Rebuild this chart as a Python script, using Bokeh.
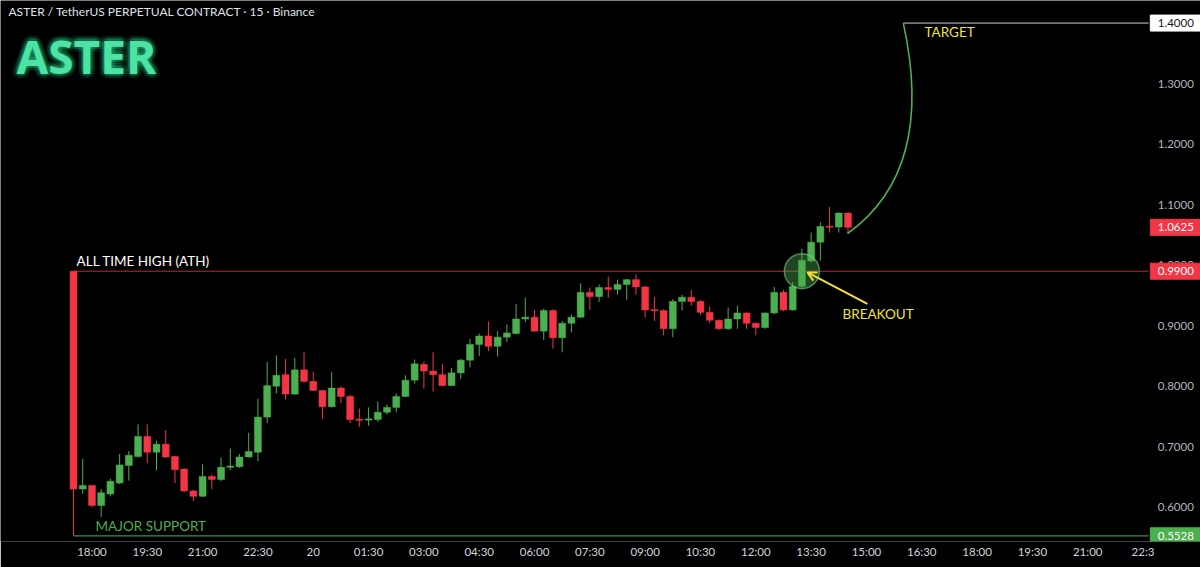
import math
from bokeh.plotting import figure
from bokeh.models import Range1d, FixedTicker, Label, Arrow, OpenHead, ColumnDataSource
from bokeh.embed import file_html
from bokeh.resources import INLINE
from bokeh.core.properties import value

# ---- data (15-min candles, ASTERUSDT perp, index 0 = 17:30) ----
opens = [0.990, 0.630, 0.636, 0.603, 0.622, 0.640, 0.669, 0.684, 0.717, 0.691,
         0.704, 0.684, 0.663, 0.627, 0.618, 0.651, 0.646, 0.666, 0.667, 0.683,
         0.691, 0.749, 0.800, 0.819, 0.787, 0.827, 0.808, 0.793, 0.766, 0.797,
         0.783, 0.745, 0.744, 0.745, 0.757, 0.765, 0.783, 0.810, 0.836, 0.825,
         0.819, 0.801, 0.822, 0.843, 0.869, 0.883, 0.866, 0.881, 0.887, 0.911,
         0.914, 0.891, 0.925, 0.880, 0.904, 0.914, 0.955, 0.948, 0.963, 0.960,
         0.968, 0.976, 0.964, 0.926, 0.925, 0.895, 0.940, 0.947, 0.940, 0.922,
         0.909, 0.895, 0.911, 0.921, 0.904, 0.897, 0.921, 0.955, 0.926, 0.965,
         1.007, 1.038, 1.064, 1.063, 1.086]
highs = [0.990, 0.680, 0.637, 0.630, 0.647, 0.688, 0.693, 0.737, 0.737, 0.710,
         0.727, 0.685, 0.664, 0.629, 0.671, 0.654, 0.682, 0.697, 0.688, 0.723,
         0.779, 0.840, 0.851, 0.845, 0.847, 0.856, 0.824, 0.794, 0.823, 0.800,
         0.786, 0.763, 0.765, 0.775, 0.770, 0.788, 0.818, 0.844, 0.841, 0.856,
         0.837, 0.830, 0.845, 0.878, 0.887, 0.907, 0.891, 0.902, 0.936, 0.946,
         0.926, 0.928, 0.927, 0.908, 0.918, 0.970, 0.963, 0.968, 0.981, 0.976,
         0.977, 0.985, 0.966, 0.947, 0.927, 0.944, 0.951, 0.959, 0.942, 0.932,
         0.910, 0.930, 0.933, 0.922, 0.905, 0.922, 0.964, 0.959, 0.972, 1.027,
         1.054, 1.071, 1.096, 1.087, 1.087]
lows = [0.5528, 0.622, 0.600, 0.584, 0.618, 0.638, 0.644, 0.682, 0.673, 0.661,
        0.682, 0.640, 0.625, 0.610, 0.617, 0.630, 0.643, 0.661, 0.665, 0.682,
        0.676, 0.739, 0.788, 0.778, 0.786, 0.806, 0.792, 0.746, 0.765, 0.772,
        0.739, 0.733, 0.735, 0.741, 0.753, 0.757, 0.782, 0.804, 0.796, 0.791,
        0.800, 0.800, 0.812, 0.831, 0.850, 0.858, 0.849, 0.873, 0.886, 0.906,
        0.890, 0.876, 0.862, 0.856, 0.889, 0.913, 0.926, 0.939, 0.946, 0.951,
        0.943, 0.951, 0.914, 0.908, 0.884, 0.881, 0.925, 0.933, 0.918, 0.904,
        0.893, 0.893, 0.895, 0.895, 0.884, 0.895, 0.919, 0.924, 0.925, 0.962,
        1.005, 1.008, 1.054, 1.054, 1.052]
closes = [0.630, 0.636, 0.603, 0.624, 0.643, 0.670, 0.686, 0.717, 0.691, 0.704,
          0.683, 0.662, 0.627, 0.618, 0.651, 0.646, 0.666, 0.668, 0.683, 0.692,
          0.749, 0.801, 0.818, 0.787, 0.827, 0.808, 0.793, 0.766, 0.797, 0.783,
          0.745, 0.744, 0.746, 0.757, 0.765, 0.783, 0.810, 0.837, 0.825, 0.819,
          0.801, 0.822, 0.843, 0.869, 0.883, 0.866, 0.881, 0.888, 0.911, 0.914,
          0.891, 0.925, 0.880, 0.904, 0.914, 0.955, 0.948, 0.963, 0.960, 0.968,
          0.976, 0.964, 0.926, 0.925, 0.895, 0.940, 0.947, 0.940, 0.922, 0.909,
          0.895, 0.911, 0.921, 0.904, 0.897, 0.921, 0.955, 0.926, 0.965, 1.008,
          1.038, 1.064, 1.063, 1.086, 1.0625]

tick_labels = ["18:00", "19:30", "21:00", "22:30", "20", "01:30", "03:00", "04:30",
               "06:00", "07:30", "09:00", "10:30", "12:00", "13:30", "15:00", "16:30",
               "18:00", "19:30", "21:00", "22:3"]
first_tick_index = 2          # 18:00 is the third 15-min bar after 17:30
bars_per_tick = 6             # 90 minutes per time label
price_ticks = [0.6, 0.7, 0.8, 0.9, 1.0, 1.1, 1.2, 1.3, 1.4]

ath_price = 0.99
support_price = 0.5528
target_price = 1.40
last_price = 1.0625
breakout_index = 79
target_start_index = 90
# target projection arc (quadratic): start, control, end
arc_x0, arc_y0 = 83.95, 1.0523
arc_cx, arc_cy = 93.5, 1.1564
arc_x1, arc_y1 = 90.0, 1.40
arrow_tail = (86.1, 0.936)
arrow_tip = (79.6, 0.988)

GREEN = "#4caf50"
RED = "#f23645"
YELLOW = "#f2e232"
FONT = "Lato"

# layout in bar-index units
x_start, x_end = -7.92, 122.23
scale_left = 116.6          # where the price scale column begins
scale_text_x = 117.6
scale_box_x = 119.5

n = len(opens)
idx = list(range(n))
cols = [GREEN if c >= o else RED for o, c in zip(opens, closes)]
min_body = 0.0018
tops, bots = [], []
for o, c in zip(opens, closes):
    t, b = max(o, c), min(o, c)
    if t - b < min_body:
        mid = (t + b) / 2
        t, b = mid + min_body / 2, mid - min_body / 2
    tops.append(t)
    bots.append(b)
src = ColumnDataSource(dict(x=idx, o=opens, h=highs, l=lows, c=closes, top=tops, bot=bots, col=cols))

p = figure(width=1200, height=567, x_range=Range1d(x_start, x_end), y_range=Range1d(0.5434, 1.4373),
           output_backend="svg", toolbar_location=None, y_axis_location=None,
           background_fill_color="#000000", border_fill_color="#000000",
           min_border_left=0, min_border_right=0, min_border_top=0, min_border_bottom=26)
p.grid.visible = False
p.outline_line_color = None

# time axis
tick_pos = [first_tick_index + bars_per_tick * k for k in range(len(tick_labels))]
p.xaxis.ticker = FixedTicker(ticks=tick_pos)
p.xaxis.major_label_overrides = {t: lab for t, lab in zip(tick_pos, tick_labels)}
ax = p.xaxis[0]
ax.axis_line_color = None
ax.major_tick_line_color = None
ax.major_tick_out = 0
ax.major_tick_in = 0
ax.minor_tick_line_color = None
ax.minor_tick_out = 0
ax.major_label_text_font = FONT
ax.major_label_text_font_size = "11.5px"
ax.major_label_text_color = "#d1d4dc"
ax.major_label_standoff = 3

# level lines
p.segment(x0=[0], y0=[ath_price], x1=[scale_left], y1=[ath_price], line_color="#b8283a", line_width=1)
p.segment(x0=[0], y0=[support_price], x1=[scale_left], y1=[support_price], line_color="#3f8f43", line_width=1.2)
p.segment(x0=[target_start_index], y0=[target_price], x1=[scale_left], y1=[target_price],
          line_color="#d0d0d0", line_width=1)

# candles
p.segment(x0="x", y0="l", x1="x", y1="h", line_color="col", line_width=1, source=src)
p.vbar(x="x", top="top", bottom="bot", width=0.75, fill_color="col", line_color="col", line_width=0.5, source=src)

# breakout marker
p.scatter(x=[breakout_index], y=[ath_price], size=35, fill_color=GREEN, fill_alpha=0.4,
          line_color="#7ccf7f", line_alpha=0.6, line_width=1.5)
p.add_layout(Arrow(x_start=arrow_tail[0], y_start=arrow_tail[1], x_end=arrow_tip[0], y_end=arrow_tip[1],
                   line_color=YELLOW, line_width=2,
                   end=OpenHead(size=9, line_color=YELLOW, line_width=2)))

# projection arc
p.quadratic(x0=[arc_x0], y0=[arc_y0], x1=[arc_x1], y1=[arc_y1], cx=[arc_cx], cy=[arc_cy],
            line_color=GREEN, line_width=1.6)

# text annotations
p.add_layout(Label(x=0.33, y=1.0069, text="ALL TIME HIGH (ATH)", text_color="#ffffff",
                   text_font=FONT, text_font_size="13.5px", text_baseline="middle"))
p.add_layout(Label(x=2.39, y=0.5698, text="MAJOR SUPPORT", text_color=GREEN,
                   text_font=FONT, text_font_size="13.5px", text_baseline="middle"))
p.add_layout(Label(x=83.4, y=0.920, text="BREAKOUT", text_color=YELLOW,
                   text_font=FONT, text_font_size="13.5px", text_baseline="middle"))
p.add_layout(Label(x=92.3, y=1.386, text="TARGET", text_color=YELLOW,
                   text_font=FONT, text_font_size="13.5px", text_baseline="middle"))

# header + big title with glow
FH = 541  # frame height in px
p.add_layout(Label(x=8, y=FH - 11, x_units="screen", y_units="screen",
                   text="ASTER / TetherUS PERPETUAL CONTRACT \u00b7 15 \u00b7 Binance",
                   text_color="#dfe1e8", text_font=FONT, text_font_size="12px",
                   text_baseline="middle"))
title_y = FH - 55
for k in range(12):
    a = 2 * math.pi * k / 12
    for r in (2.5, 5.0):
        p.add_layout(Label(x=16 + r * math.cos(a), y=title_y + r * math.sin(a), x_units="screen", y_units="screen",
                           text="ASTER", text_color="#2ee89a", text_alpha=0.07, text_baseline="middle",
                           text_font="Open Sans", text_font_style="bold", text_font_size="46px"))
p.add_layout(Label(x=16, y=title_y, x_units="screen", y_units="screen", text="ASTER", text_baseline="middle",
                   text_color="#4de3a4", text_font="Open Sans", text_font_style="bold", text_font_size="46px"))

# price scale column (tick labels + tags), positioned through the y scale
tick_txt = [f"{v:.4f}" for v in price_ticks]
p.text(x=[scale_text_x] * len(price_ticks), y=price_ticks, text=tick_txt, text_color="#b2b5be",
       text_font=value(FONT), text_font_size="11.5px", text_baseline="middle", text_align="left")

tag_prices = [target_price, last_price, ath_price, support_price]
tag_text_cols = ["#131722", "#ffffff", "#ffffff", "#ffffff"]
tag_bg = ["#ffffff", RED, RED, GREEN]
tag_src = ColumnDataSource(dict(x=[scale_box_x] * 4, tx=[scale_text_x] * 4, y=tag_prices,
                                t=[f"{v:.4f}" for v in tag_prices], tc=tag_text_cols, bg=tag_bg))
p.rect(x="x", y="y", width=50, height=16, width_units="screen", height_units="screen",
       fill_color="bg", line_color="bg", source=tag_src)
p.text(x="tx", y="y", text="t", text_color="tc", text_font=value(FONT), text_font_size="11.5px",
       text_baseline="middle", text_align="left", source=tag_src)

open("out.html", "w").write(file_html(p, INLINE))
